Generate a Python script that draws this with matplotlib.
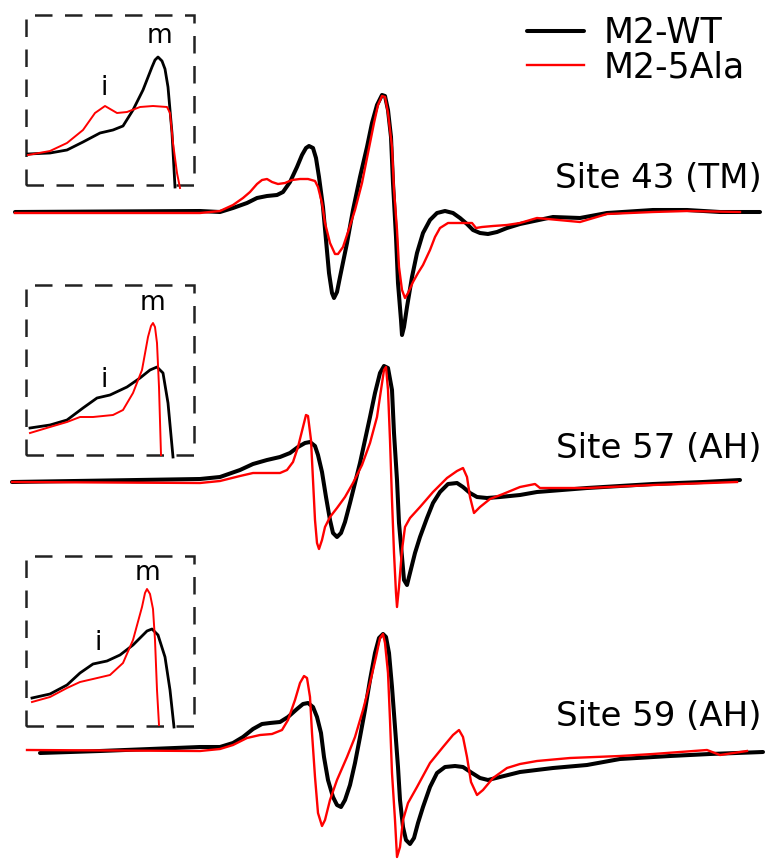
import numpy as np
import matplotlib
matplotlib.use("Agg")
import matplotlib.pyplot as plt
from matplotlib.patches import Rectangle

plt.rcParams["font.family"] = ["DejaVu Sans"]

# --- main spectra: field position and signal (relative to each baseline) ---
# Site 43 (TM)
f43_wt = [15, 200, 220, 233, 247, 257, 267, 277, 283, 290, 297, 302, 306, 309, 313, 316, 319, 323, 326, 329,
          332, 334, 337, 340, 347, 353, 360, 367, 372, 377, 382, 385, 388, 391, 393, 396, 398, 401, 402, 404,
          407, 412, 417, 423, 430, 437, 445, 453, 460, 467, 473, 480, 488, 497, 507, 520, 553, 580, 607, 653,
          687, 720, 760]
s43_wt = [0, 1, 0, 4, 9, 14, 16, 17, 20, 30, 45, 57, 64, 66, 64, 54, 35, 5, -28, -61,
          -81, -86, -80, -65, -31, 2, 35, 65, 89, 107, 117, 116, 102, 75, 29, -25, -71, -108, -123, -115,
          -95, -65, -41, -21, -8, -1, 1, -1, -6, -12, -18, -21, -22, -20, -16, -12, -5, -6, -1, 2,
          2, 0, 0]
f43_ala = [15, 200, 220, 233, 243, 250, 257, 262, 267, 272, 278, 285, 292, 300, 308, 315, 318, 322, 325, 330,
           335, 338, 343, 348, 355, 362, 368, 374, 378, 382, 385, 388, 392, 394, 397, 399, 402, 405, 408, 413,
           418, 423, 430, 435, 440, 448, 460, 472, 476, 482, 493, 507, 520, 537, 580, 607, 653, 687, 740]
s43_ala = [-1, -1, 1, 7, 14, 20, 28, 32, 33, 30, 28, 29, 32, 33, 33, 31, 25, 9, -11, -31,
           -42, -42, -35, -20, 2, 29, 59, 89, 107, 116, 115, 99, 65, 22, -18, -55, -78, -86, -81, -70,
           -61, -53, -38, -25, -16, -11, -11, -11, -16, -15, -14, -13, -11, -6, -10, -2, 0, 1, 0]

# Site 57 (AH)
f57_wt = [12, 200, 220, 240, 253, 267, 280, 290, 298, 305, 310, 315, 318, 322, 326, 330, 333, 337, 341, 345,
          350, 355, 360, 365, 370, 375, 380, 384, 388, 392, 394, 397, 399, 402, 404, 407, 410, 415, 420, 427,
          433, 440, 448, 457, 463, 470, 477, 487, 500, 520, 537, 587, 653, 703, 740]
s57_wt = [0, 3, 5, 12, 18, 22, 25, 29, 35, 39, 40, 36, 27, 10, -15, -38, -51, -55, -51, -40,
          -21, -1, 19, 42, 65, 89, 109, 116, 114, 92, 49, 2, -41, -75, -98, -103, -91, -71, -55, -36,
          -21, -10, -2, -1, -5, -11, -15, -16, -15, -13, -10, -6, -2, 0, 2]
f57_ala = [12, 200, 220, 240, 253, 267, 280, 287, 293, 298, 303, 306, 308, 311, 313, 315, 317, 319, 322, 325,
           330, 337, 345, 353, 362, 370, 377, 381, 384, 386, 388, 390, 392, 394, 396, 397, 399, 402, 405, 410,
           420, 433, 447, 457, 463, 467, 470, 474, 480, 490, 503, 520, 530, 535, 540, 587, 653, 737]
s57_ala = [0, -1, 1, 6, 9, 9, 9, 12, 20, 35, 55, 67, 66, 42, 2, -38, -61, -67, -58, -45,
           -35, -26, -15, -1, 17, 39, 65, 92, 112, 115, 92, 42, -18, -71, -111, -125, -105, -68, -45, -36,
           -25, -10, 4, 11, 14, 5, -15, -31, -25, -17, -12, -5, -3, -2, -6, -6, -3, 0]

# Site 59 (AH)
f59_wt = [40, 100, 200, 220, 233, 243, 253, 262, 270, 280, 288, 297, 303, 308, 313, 317, 321, 324, 328, 333,
          337, 341, 345, 350, 355, 360, 365, 370, 375, 379, 383, 386, 389, 392, 395, 398, 400, 403, 406, 410,
          414, 418, 423, 430, 437, 445, 455, 463, 472, 480, 488, 500, 520, 553, 587, 620, 670, 710, 763]
s59_wt = [-3, -1, 3, 3, 7, 13, 21, 26, 27, 28, 33, 41, 46, 47, 43, 33, 17, -7, -30, -47,
          -55, -57, -50, -35, -13, 13, 40, 70, 97, 112, 116, 113, 97, 63, 23, -17, -50, -77, -90, -94,
          -88, -73, -57, -37, -23, -17, -16, -17, -23, -28, -30, -27, -22, -18, -15, -9, -6, -4, -2]
f59_ala = [27, 200, 220, 233, 247, 260, 272, 282, 288, 295, 300, 304, 307, 310, 312, 315, 318, 322, 325, 330,
           337, 347, 355, 363, 370, 376, 380, 383, 385, 388, 390, 392, 395, 397, 400, 403, 408, 417, 430, 443,
           453, 459, 463, 467, 471, 477, 483, 493, 507, 520, 537, 570, 620, 653, 707, 720, 747]
s59_ala = [0, -1, 1, 5, 12, 15, 16, 20, 30, 50, 67, 74, 72, 53, 17, -27, -63, -76, -70, -50,
           -30, -7, 13, 40, 67, 93, 112, 116, 107, 77, 30, -23, -70, -107, -97, -70, -53, -37, -13, 3,
           15, 20, 13, -7, -32, -45, -40, -28, -18, -14, -11, -8, -6, -4, 0, -5, -1]

# --- insets (low-field region, integrated), amplitude above inset floor ---
fi43_wt = [28, 50, 67, 83, 100, 113, 123, 133, 143, 152, 155, 158, 162, 165, 168, 172, 175]
ai43_wt = [31, 32, 35, 43, 52, 55, 59, 75, 95, 118, 125, 128, 124, 116, 98, 52, -2]
fi43_ala = [28, 50, 67, 83, 95, 105, 117, 127, 140, 153, 167, 170, 173, 177, 180]
ai43_ala = [30, 34, 42, 55, 72, 79, 72, 73, 78, 79, 78, 72, 42, 12, -3]

fi57_wt = [30, 50, 67, 83, 97, 110, 127, 140, 150, 157, 163, 168, 173]
ai57_wt = [27, 30, 35, 47, 57, 60, 68, 77, 85, 88, 82, 52, -2]
fi57_ala = [30, 50, 67, 80, 93, 113, 123, 133, 142, 148, 151, 153, 155, 157, 159, 161]
ai57_ala = [22, 28, 33, 38, 38, 40, 45, 62, 85, 118, 129, 132, 128, 112, 68, 0]

fi59_wt = [32, 50, 67, 80, 93, 107, 120, 133, 147, 152, 158, 165, 170, 174]
ai59_wt = [28, 32, 41, 53, 62, 65, 71, 81, 95, 97, 91, 69, 36, -1]
fi59_ala = [32, 50, 67, 80, 93, 110, 123, 133, 142, 145, 147, 150, 153, 155, 157, 159]
ai59_ala = [24, 29, 38, 44, 47, 51, 63, 86, 119, 133, 137, 132, 117, 86, 36, 1]

site_labels = ["Site 43 (TM)", "Site 57 (AH)", "Site 59 (AH)"]
baselines = [649, 379, 111]        # vertical offset of each spectrum
inset_floor = [676, 406, 135]      # bottom of each inset box
label_pos = [(104, 766, 160, 818), (104, 474, 153, 551), (98, 211, 148, 281)]  # i (x,y), m (x,y)

main = [(f43_wt, s43_wt, f43_ala, s43_ala),
        (f57_wt, s57_wt, f57_ala, s57_ala),
        (f59_wt, s59_wt, f59_ala, s59_ala)]
insets = [(fi43_wt, ai43_wt, fi43_ala, ai43_ala),
          (fi57_wt, ai57_wt, fi57_ala, ai57_ala),
          (fi59_wt, ai59_wt, fi59_ala, ai59_ala)]

fig = plt.figure(figsize=(7.65, 8.61), dpi=100)
ax = fig.add_axes([0, 0, 1, 1])
ax.set_xlim(0, 765)
ax.set_ylim(0, 861)
ax.axis("off")

for k in range(3):
    fw, sw, fa, sa = main[k]
    b = baselines[k]
    lw_line, = ax.plot(fw, np.array(sw) + b, color="black", lw=2.9, solid_joinstyle="round",
                       solid_capstyle="round", label="M2-WT")
    la_line, = ax.plot(fa, np.array(sa) + b, color="#ff0000", lw=1.7, solid_joinstyle="round",
                       label="M2-5Ala")
    if k == 0:
        handles = [lw_line, la_line]
    ax.text(762, b + 24, site_labels[k], ha="right", va="baseline", fontsize=24.5)

    # inset
    fiw, aiw, fia, aia = insets[k]
    fl = inset_floor[k]
    ax.add_patch(Rectangle((26, fl), 168, 170, fill=False, ec="#222222", lw=1.8,
                           ls=(0, (7, 5))))
    ax.plot(fiw, np.array(aiw) + fl, color="black", lw=2.0, solid_joinstyle="round")
    ax.plot(fia, np.array(aia) + fl, color="#ff0000", lw=1.4, solid_joinstyle="round")
    ix, iy, mx, my = label_pos[k]
    ax.text(ix, iy, "i", ha="center", va="baseline", fontsize=19)
    ax.text(mx, my, "m", ha="center", va="baseline", fontsize=19)

ax.legend(handles=handles, loc="upper left", bbox_to_anchor=(527 / 765, 1 - 16 / 861),
          frameon=False, fontsize=25, handlelength=1.65, handletextpad=0.55,
          labelspacing=0.0, borderpad=0, borderaxespad=0)

fig.savefig("out.png", dpi=100)
